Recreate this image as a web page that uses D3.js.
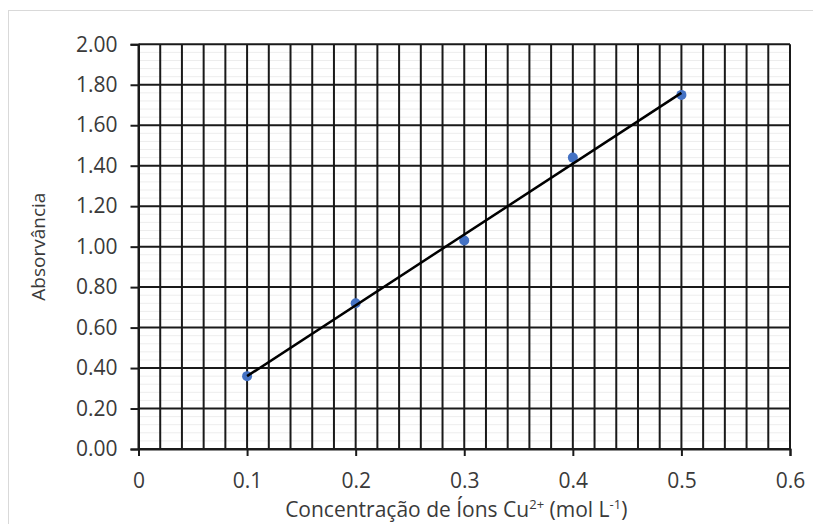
<!DOCTYPE html>
<html>
<head>
<meta charset="utf-8">
<script src="https://cdn.jsdelivr.net/npm/d3@7"></script>
<style>
  html, body { margin: 0; padding: 0; background: #fff; }
  svg { display: block; }
  text { font-family: "Open Sans", "Noto Sans", sans-serif; fill: #3a3a3a; }
</style>
</head>
<body>
<svg id="chart" width="813" height="524"></svg>
<script>
// ---- data ----
const concentrations = [0.1, 0.2, 0.3, 0.4, 0.5];
const absorbances = [0.36, 0.72, 1.03, 1.44, 1.75];
const xTickValues = [0, 0.1, 0.2, 0.3, 0.4, 0.5, 0.6];
const xTickLabels = ["0", "0.1", "0.2", "0.3", "0.4", "0.5", "0.6"];
const yTickValues = [0, 0.2, 0.4, 0.6, 0.8, 1.0, 1.2, 1.4, 1.6, 1.8, 2.0];
const yTickLabels = ["0.00", "0.20", "0.40", "0.60", "0.80", "1.00", "1.20", "1.40", "1.60", "1.80", "2.00"];
const xGridValues = d3.range(0, 31).map(i => i * 0.02);
const yMinorGridValues = d3.range(0, 51).map(i => i * 0.04);
const yTitle = "Absorvância";

const svg = d3.select("#chart");

// outer chart border
svg.append("rect")
  .attr("x", 8.5).attr("y", 10.5)
  .attr("width", 830).attr("height", 540)
  .attr("fill", "none").attr("stroke", "#d9d9d9").attr("stroke-width", 1);

const x = d3.scaleLinear().domain([0, 0.6]).range([138.5, 790]);
const y = d3.scaleLinear().domain([0, 2]).range([449, 44.3]);

// minor faint horizontal grid
svg.append("g").selectAll("line").data(yMinorGridValues).join("line")
  .attr("x1", x(0)).attr("x2", x(0.6))
  .attr("y1", d => y(d)).attr("y2", d => y(d))
  .attr("stroke", "#ededed").attr("stroke-width", 1);

// vertical major grid every 0.02
svg.append("g").selectAll("line").data(xGridValues).join("line")
  .attr("x1", d => x(d)).attr("x2", d => x(d))
  .attr("y1", y(0)).attr("y2", y(2))
  .attr("stroke", "#1a1a1a").attr("stroke-width", 2);

// horizontal major grid
svg.append("g").selectAll("line").data(yTickValues).join("line")
  .attr("x1", x(0)).attr("x2", x(0.6))
  .attr("y1", d => y(d)).attr("y2", d => y(d))
  .attr("stroke", "#1a1a1a").attr("stroke-width", 2);

// y axis
const yAxis = d3.axisLeft(y).tickValues(yTickValues)
  .tickFormat((d, i) => yTickLabels[i]).tickSize(8).tickPadding(13);
const gy = svg.append("g").attr("transform", `translate(${x(0)},0)`).call(yAxis);
gy.select(".domain").attr("stroke", "#1a1a1a").attr("stroke-width", 2);
gy.selectAll(".tick line").attr("stroke", "#1a1a1a").attr("stroke-width", 2);
gy.selectAll(".tick text").attr("font-size", 21).attr("fill", "#3a3a3a")
  .style("font-family", "'Open Sans', sans-serif");

// x axis
const xAxis = d3.axisBottom(x).tickValues(xTickValues)
  .tickFormat((d, i) => xTickLabels[i]).tickSize(7).tickPadding(17);
const gx = svg.append("g").attr("transform", `translate(0,${y(0)})`).call(xAxis);
gx.select(".domain").attr("stroke", "#1a1a1a").attr("stroke-width", 2);
gx.selectAll(".tick line").attr("stroke", "#1a1a1a").attr("stroke-width", 2);
gx.selectAll(".tick text").attr("font-size", 21).attr("fill", "#3a3a3a")
  .style("font-family", "'Open Sans', sans-serif");

// points
const pts = concentrations.map((c, i) => ({ x: c, y: absorbances[i] }));
svg.append("g").selectAll("circle").data(pts).join("circle")
  .attr("cx", d => x(d.x)).attr("cy", d => y(d.y)).attr("r", 5)
  .attr("fill", "#4472C4");

// linear trendline (least squares)
const mx = d3.mean(concentrations), my = d3.mean(absorbances);
const sxy = d3.sum(concentrations, (c, i) => (c - mx) * (absorbances[i] - my));
const sxx = d3.sum(concentrations, c => (c - mx) ** 2);
const slope = sxy / sxx, intercept = my - slope * mx;
const xMin = d3.min(concentrations), xMax = d3.max(concentrations);
const trend = [[xMin, intercept + slope * xMin], [xMax, intercept + slope * xMax]];
svg.append("path")
  .attr("d", d3.line().x(d => x(d[0])).y(d => y(d[1]))(trend))
  .attr("fill", "none").attr("stroke", "#000").attr("stroke-width", 2.5);

// y title
svg.append("text")
  .attr("transform", `translate(45,${(y(0) + y(2)) / 2}) rotate(-90)`)
  .attr("text-anchor", "middle").attr("font-size", 19)
  .text(yTitle);

// x title
const xt = svg.append("text")
  .attr("x", (x(0) + x(0.6)) / 2 - 8).attr("y", 517)
  .attr("text-anchor", "middle").attr("font-size", 21);
xt.append("tspan").text("Concentração de Íons Cu");
xt.append("tspan").attr("font-size", 13).attr("dy", -8).text("2+");
xt.append("tspan").attr("dy", 8).text(" (mol L");
xt.append("tspan").attr("font-size", 13).attr("dy", -8).text("-1");
xt.append("tspan").attr("dy", 8).text(")");
</script>
</body>
</html>
